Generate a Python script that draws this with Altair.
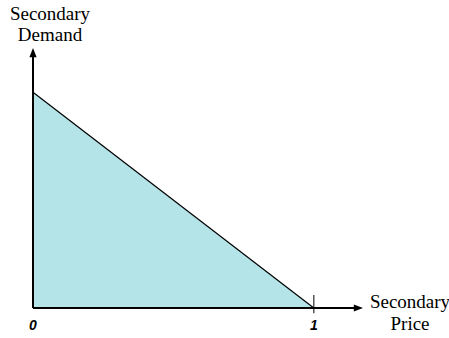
import altair as alt
import pandas as pd

# Linear secondary demand curve: demand falls from its intercept to zero at price 1
price = [0.0, 1.0]
demand = [0.83, 0.0]

# Axis extents (in data units) reached by the arrowed axis lines
x_end = 1.175
y_end = 1.0
tick_values = [0, 1]
tick_labels = ["0", "1"]

# Axis titles, one entry per text line
title_lines = ["Secondary", "Demand", "Secondary", "Price"]

curve = pd.DataFrame({"price": price, "demand": demand})

x_scale = alt.Scale(domain=[0, x_end], nice=False, zero=False)
y_scale = alt.Scale(domain=[0, y_end], nice=False, zero=False)

serif = "Liberation Serif"
sans = "Liberation Sans"

W, H = 330, 260


def X(field):
    return alt.X(field, type="quantitative", scale=x_scale, axis=None)


def Y(field):
    return alt.Y(field, type="quantitative", scale=y_scale, axis=None)


base = alt.Chart(curve)

area = base.mark_area(color="#b4e4e8", opacity=1).encode(x=X("price"), y=Y("demand"))
line = base.mark_line(color="black", strokeWidth=1.2).encode(x=X("price"), y=Y("demand"))

# Arrowed axis lines
axes_df = pd.DataFrame({"x0": [0.0, 0.0], "x1": [0.0, x_end - 0.01],
                        "y0": [0.0, 0.0], "y1": [y_end - 0.01, 0.0]})
axis_lines = alt.Chart(axes_df).mark_rule(color="black", strokeWidth=2).encode(
    x=X("x0"), x2="x1", y=Y("y0"), y2="y1",
)

arrow_path = "M0,0L-0.9,2.3L0.9,2.3Z"
arrows_df = pd.DataFrame({"x": [0.0, x_end], "y": [y_end, 0.0], "rot": [0, 90]})
arrows = alt.Chart(arrows_df).mark_point(
    shape=arrow_path, filled=True, color="black", size=64, opacity=1
).encode(x=X("x"), y=Y("y"), angle=alt.Angle("rot:Q", scale=None))

# Small tick crossing the price axis at price = 1
tick_df = pd.DataFrame({"x": [1.0], "y0": [-0.02], "y1": [0.05]})
price_tick = alt.Chart(tick_df).mark_rule(color="black", strokeWidth=1).encode(
    x=X("x"), y=Y("y0"), y2="y1",
)

# Tick labels under the price axis
labels_df = pd.DataFrame({"v": tick_values, "t": tick_labels})
tick_text = alt.Chart(labels_df).mark_text(
    font=sans, fontSize=14, fontWeight="bold", fontStyle="italic",
    color="black", align="center", baseline="alphabetic",
).encode(x=X("v"), y=alt.value(H + 22), text="t:N")

# Axis titles: demand title above the vertical arrow, price title right of the horizontal arrow
titles_df = pd.DataFrame({
    "t": title_lines,
    "px": [17, 17, 377, 377],
    "py": [-43.5, -22.5, H - 15.5, H + 7],
})
title_text = alt.Chart(titles_df).mark_text(
    font=serif, fontSize=19, color="black", align="center", baseline="top",
).encode(
    x=alt.X("px:Q", scale=None, axis=None),
    y=alt.Y("py:Q", scale=None, axis=None),
    text="t:N",
)

chart = alt.layer(area, line, axis_lines, price_tick, arrows, tick_text, title_text).properties(
    width=W, height=H,
    autosize=alt.AutoSizeParams(type="none"),
    padding={"left": 33, "top": 48, "right": 86, "bottom": 30},
    background="white",
).configure_view(stroke=None)

chart.save("out.html", embed_options={"renderer": "svg", "actions": False})
